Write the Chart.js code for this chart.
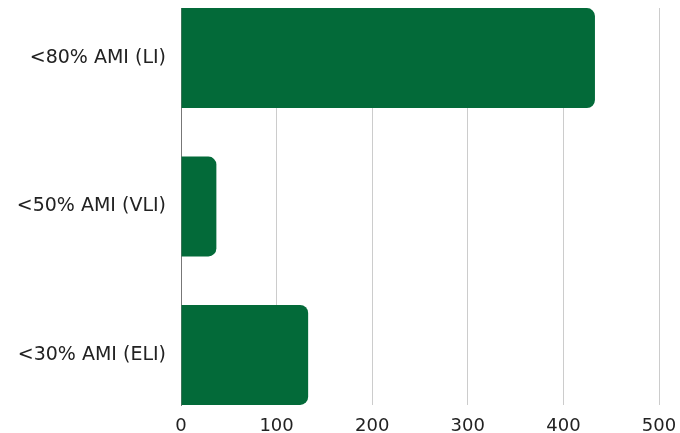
<!DOCTYPE html>
<html>
<head>
<meta charset="utf-8">
<script src="https://cdn.jsdelivr.net/npm/chart.js@4"></script>
<style>
  html, body { margin: 0; padding: 0; background: #fff; }
  #wrap { width: 680px; height: 433px; }
</style>
</head>
<body>
<div id="wrap"><canvas id="myChart"></canvas></div>
<script>
let categories = ['<80% AMI (LI)', '<50% AMI (VLI)', '<30% AMI (ELI)'];
let values = [433, 37, 133];
let xTicks = [0, 100, 200, 300, 400, 500];

let ctx = document.getElementById('myChart').getContext('2d');

// bars sit flush with the top and bottom of the plot, like a band scale
// with no outer padding, so the index axis is linear with a small overhang
let overhang = 0.337;

let myChart = new Chart(ctx, {
  type: 'bar',
  data: {
    datasets: [{
      data: values.map((v, i) => ({ x: v, y: i })),
      backgroundColor: '#036A39',
      borderRadius: 8,
      barPercentage: 0.673,
      categoryPercentage: 1
    }]
  },
  options: {
    indexAxis: 'y',
    responsive: true,
    maintainAspectRatio: false,
    animation: false,
    layout: {
      padding: { top: 8, right: 21, bottom: 0, left: 0 }
    },
    plugins: {
      legend: { display: false },
      tooltip: { enabled: false }
    },
    scales: {
      x: {
        type: 'linear',
        min: 0,
        max: 500,
        afterBuildTicks: (axis) => {
          axis.ticks = xTicks.map(v => ({ value: v }));
        },
        afterFit: (axis) => {
          axis.height = 28;
          axis.paddingLeft = 0;
          axis.paddingRight = 0;
        },
        grid: {
          color: '#cccccc',
          drawTicks: false
        },
        border: { display: false },
        ticks: {
          color: '#222',
          padding: 12,
          font: { family: 'DejaVu Sans', size: 18, lineHeight: 1 }
        }
      },
      y: {
        type: 'linear',
        reverse: true,
        offset: false,
        bounds: 'data',
        min: -overhang,
        max: categories.length - 1 + overhang,
        afterBuildTicks: (axis) => {
          axis.ticks = categories.map((c, i) => ({ value: i }));
          axis.min = -overhang;
          axis.max = categories.length - 1 + overhang;
        },
        afterFit: (axis) => {
          axis.width = 181;
          axis.paddingTop = 0;
          axis.paddingBottom = 0;
        },
        grid: { display: false, drawTicks: false, offset: false },
        border: { display: true, color: '#777', width: 1 },
        ticks: {
          color: '#222',
          padding: 15,
          font: { family: 'DejaVu Sans', size: 19 },
          callback: (value) => categories[value]
        }
      }
    }
  }
});
</script>
</body>
</html>
